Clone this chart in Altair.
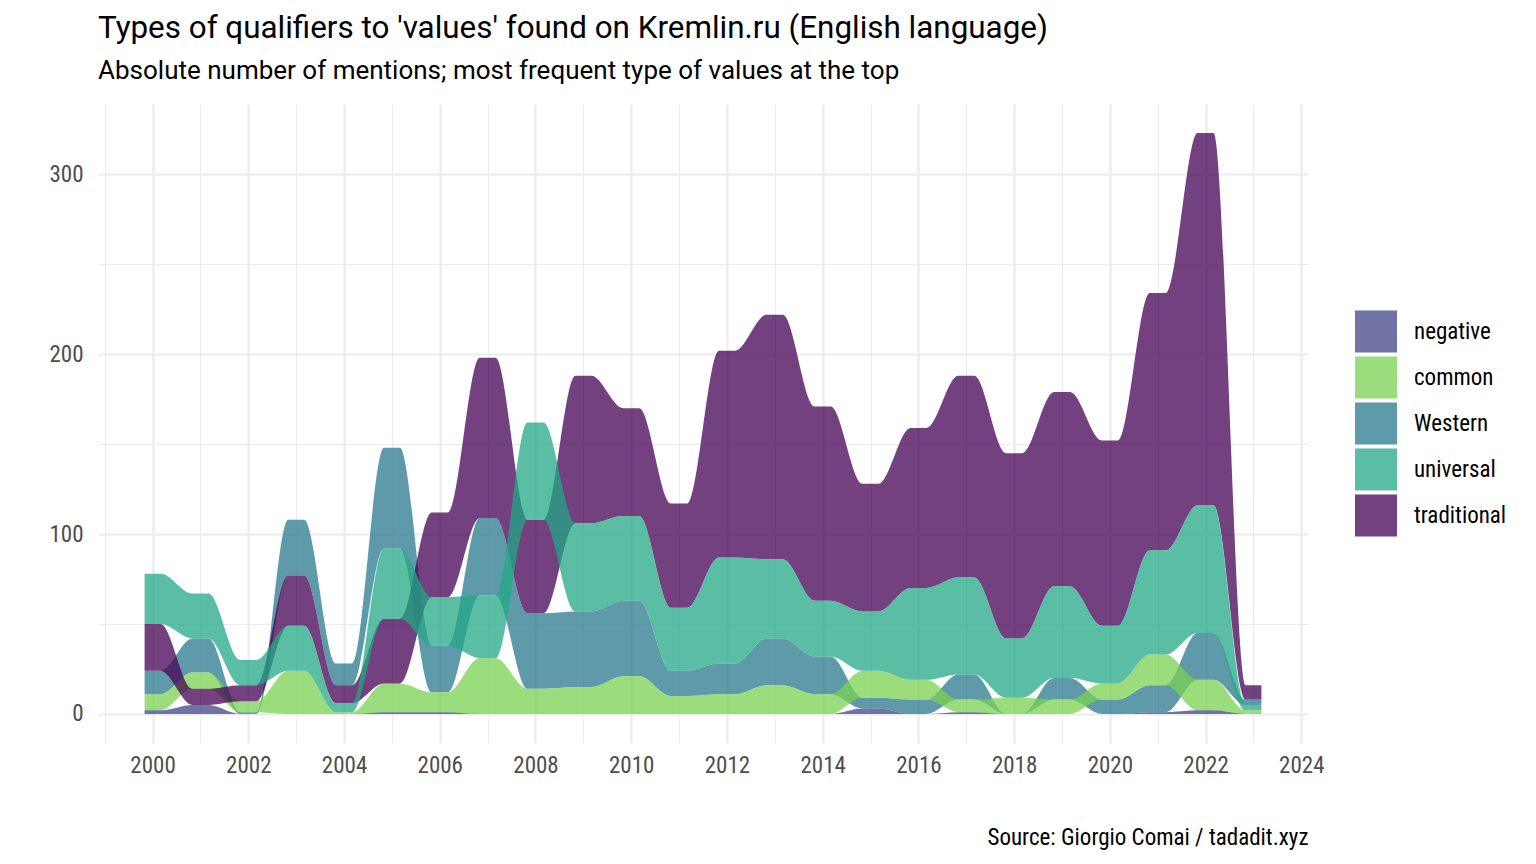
import altair as alt
import pandas as pd

# ---- data ----
years = list(range(2000, 2024))
types = ["negative", "common", "Western", "universal", "traditional"]
colors = ["#414487", "#7AD151", "#2A788E", "#22A884", "#440154"]

negative = [2, 5, 0, 0, 0, 1, 1, 0, 0, 0, 0, 0, 0, 0, 0, 3, 0, 1, 0, 0, 0, 1, 2, 0]
common = [9, 9, 6, 24, 1, 16, 11, 31, 14, 15, 21, 10, 11, 16, 11, 15, 11, 7, 9, 8, 9, 17, 17, 2]
western = [13, 19, 1, 31, 12, 56, 26, 43, 42, 42, 42, 14, 17, 26, 21, 6, 8, 14, 0, 12, 8, 15, 26, 3]
universal = [28, 25, 14, 25, 5, 39, 27, 35, 54, 49, 47, 35, 59, 44, 31, 33, 51, 54, 33, 51, 32, 58, 71, 3]
traditional = [26, 9, 9, 28, 10, 36, 47, 89, 52, 82, 60, 58, 115, 136, 108, 71, 89, 112, 103, 108, 103, 143, 207, 8]

series = [negative, common, western, universal, traditional]

# ranked stacking per year: smallest at the bottom, most frequent at the top
HALF = 1 / 6  # half width of the flat part at each year
rows = []
for i, yr in enumerate(years):
    entries = [(series[l][i], l) for l in range(len(types))]
    entries.sort(key=lambda e: (e[0], -e[1]))
    base = 0
    for v, l in entries:
        for xe in (yr - HALF, yr + HALF):
            rows.append({"xpos": float(xe), "kind": types[l], "lo": float(base), "hi": float(base + v)})
        base += v
df = pd.DataFrame(rows).sort_values(["kind", "xpos"]).reset_index(drop=True)

TFONT = "Roboto, sans-serif"
FONT = "Roboto Condensed, Roboto, sans-serif"

chart = (
    alt.Chart(df)
    .mark_area(interpolate="monotone", opacity=0.75)
    .encode(
        x=alt.X(
            "xpos:Q",
            scale=alt.Scale(domain=[1998.86, 2024.14], nice=False, zero=False),
            axis=alt.Axis(
                values=list(range(1999, 2025)),
                labelExpr="datum.value % 2 == 0 ? '' + datum.value : ''",
                grid=True,
                gridColor="#ebebeb",
                gridWidth={"condition": {"test": "datum.value % 2 == 0", "value": 2.2}, "value": 1.1},
                domain=False,
                ticks=False,
                labelFontSize=23,
                labelColor="#4d4d4d",
                labelPadding=11,
                labelFont=FONT,
                title="Source: Giorgio Comai / tadadit.xyz",
                titleAnchor="end",
                titleFont=FONT,
                titleFontSize=23,
                titleFontWeight="normal",
                titleColor="#000000",
                titlePadding=49,
            ),
        ),
        y=alt.Y(
            "hi:Q",
            scale=alt.Scale(domain=[-16.15, 339.15], nice=False, zero=False),
            axis=alt.Axis(
                values=[0, 50, 100, 150, 200, 250, 300],
                labelExpr="datum.value % 100 == 0 ? '' + datum.value : ''",
                grid=True,
                gridColor="#ebebeb",
                gridWidth={"condition": {"test": "datum.value % 100 == 0", "value": 2.2}, "value": 1.1},
                domain=False,
                ticks=False,
                labelFontSize=23,
                labelColor="#4d4d4d",
                labelPadding=15,
                labelFont=FONT,
                title=None,
            ),
        ),
        y2=alt.Y2("lo:Q"),
        color=alt.Color(
            "kind:N",
            scale=alt.Scale(domain=types, range=colors),
            legend=alt.Legend(
                title=None,
                orient="none",
                legendX=1257,
                legendY=206.5,
                symbolType="square",
                symbolSize=1764,
                symbolStrokeWidth=0,
                symbolOpacity=0.75,
                labelFontSize=23,
                labelColor="#000000",
                labelFont=FONT,
                labelOffset=17,
                rowPadding=4,
                padding=0,
            ),
        ),
    )
    .properties(
        width=1210,
        height=639,
        background="#ffffff",
        padding={"left": 90, "top": 96, "right": 210, "bottom": 112},
        autosize=alt.AutoSizeParams(type="none"),
        title=alt.TitleParams(
            text="Types of qualifiers to 'values' found on Kremlin.ru (English language)",
            subtitle="Absolute number of mentions; most frequent type of values at the top",
            anchor="start",
            frame="group",
            font=TFONT,
            fontSize=31.4,
            fontWeight="normal",
            color="#000000",
            subtitleFont=TFONT,
            subtitleFontSize=26,
            subtitleColor="#000000",
            subtitlePadding=14,
            offset=20,
        ),
    )
    .configure_view(strokeWidth=0)
)

chart.save("out.html", embed_options={"renderer": "svg", "actions": False})
